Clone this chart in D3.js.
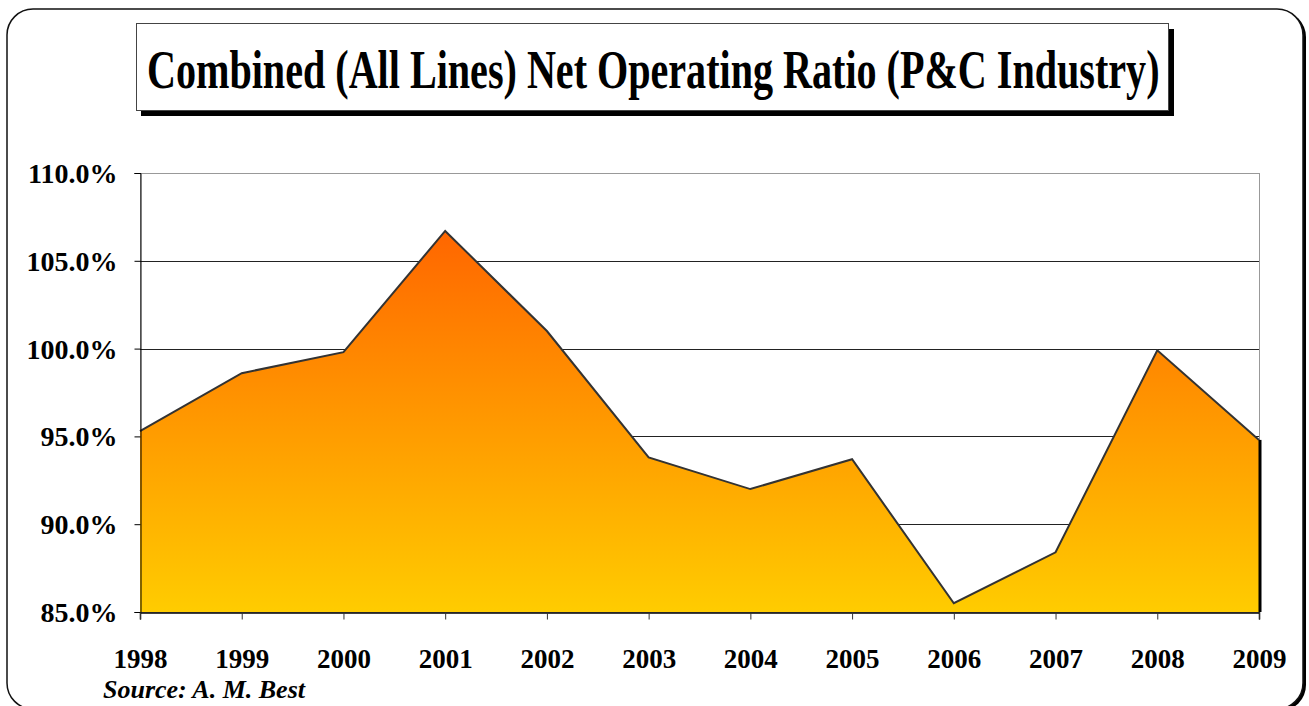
<!DOCTYPE html>
<html>
<head>
<meta charset="utf-8">
<script src="https://cdn.jsdelivr.net/npm/d3@7"></script>
<style>
  html, body { margin: 0; padding: 0; background: #fff; }
  svg { display: block; }
</style>
</head>
<body>
<svg id="chart" width="1309" height="706"></svg>
<script>
// Combined (All Lines) net operating ratio by year
const years = ["1998", "1999", "2000", "2001", "2002", "2003", "2004", "2005", "2006", "2007", "2008", "2009"];
const ratios = [95.3, 98.6, 99.8, 106.7, 101.0, 93.8, 92.0, 93.7, 85.5, 88.4, 99.9, 94.8];
const yTicks = [85, 90, 95, 100, 105, 110];

const titleText = "Combined (All Lines) Net Operating Ratio (P&C Industry)";
const sourceText = "Source: A. M. Best";

const SERIF = "'Liberation Serif', 'Times New Roman', serif";

const svg = d3.select("#chart");

// Plot frame
const plot = { left: 140, right: 1259, top: 173, bottom: 612 };

const x = d3.scalePoint().domain(years).range([plot.left, plot.right]);
const y = d3.scaleLinear().domain([85, 110]).range([plot.bottom, plot.top]);

// Outer rounded panel with a dark drop edge on the right and bottom
svg.append("rect")
  .attr("x", 10).attr("y", 11).attr("width", 1296).attr("height", 700)
  .attr("rx", 26).attr("ry", 26)
  .attr("fill", "#000");
svg.append("rect")
  .attr("x", 7).attr("y", 9).attr("width", 1296).attr("height", 700)
  .attr("rx", 26).attr("ry", 26)
  .attr("fill", "#fff").attr("stroke", "#111").attr("stroke-width", 1.5);

// Title box with shadow
svg.append("rect")
  .attr("x", 141).attr("y", 29).attr("width", 1033).attr("height", 87)
  .attr("fill", "#000");
svg.append("rect")
  .attr("x", 136.5).attr("y", 23.5).attr("width", 1032).attr("height", 87)
  .attr("fill", "#fff").attr("stroke", "#444").attr("stroke-width", 1);

// Title: condensed horizontally to fit the box
const title = svg.append("text")
  .attr("font-family", SERIF)
  .attr("font-weight", "bold")
  .attr("font-size", 54)
  .attr("fill", "#000")
  .text(titleText);
const natural = title.node().getComputedTextLength();
const sx = 1013 / natural;
title.attr("transform", `translate(147,88) scale(${sx},1)`);

// Gradient fill for the area
const defs = svg.append("defs");
const grad = defs.append("linearGradient")
  .attr("id", "areaFill")
  .attr("x1", 0).attr("y1", 0).attr("x2", 0).attr("y2", 1);
grad.append("stop").attr("offset", "0%").attr("stop-color", "#FF6600");
grad.append("stop").attr("offset", "100%").attr("stop-color", "#FFCC00");

// Plot border (top and right in grey)
svg.append("rect")
  .attr("x", plot.left + 0.5).attr("y", plot.top + 0.5)
  .attr("width", plot.right - plot.left).attr("height", plot.bottom - plot.top)
  .attr("fill", "#fff").attr("stroke", "#999").attr("stroke-width", 1);

// Horizontal gridlines
svg.append("g")
  .selectAll("line")
  .data(yTicks.filter(t => t > 85 && t < 110))
  .join("line")
  .attr("x1", plot.left).attr("x2", plot.right)
  .attr("y1", d => Math.round(y(d)) + 0.5).attr("y2", d => Math.round(y(d)) + 0.5)
  .attr("stroke", "#222").attr("stroke-width", 1);

// Area + outline
const pts = years.map((yr, i) => ({ yr, v: ratios[i] }));
const area = d3.area()
  .x(d => x(d.yr))
  .y0(y(85))
  .y1(d => y(d.v));
const line = d3.line()
  .x(d => x(d.yr))
  .y(d => y(d.v));

svg.append("path")
  .datum(pts)
  .attr("d", area)
  .attr("fill", "url(#areaFill)");

// Dark edge on the right side of the area
const last = pts[pts.length - 1];
svg.append("line")
  .attr("x1", x(last.yr) + 1).attr("x2", x(last.yr) + 1)
  .attr("y1", y(last.v)).attr("y2", y(85))
  .attr("stroke", "#000").attr("stroke-width", 3);

svg.append("path")
  .datum(pts)
  .attr("d", line)
  .attr("fill", "none")
  .attr("stroke", "#333")
  .attr("stroke-width", 2)
  .attr("stroke-linejoin", "miter");

// Y axis
const yAxis = d3.axisLeft(y)
  .tickValues(yTicks)
  .tickSize(6)
  .tickPadding(17)
  .tickFormat(d => d.toFixed(1) + "%");
const gy = svg.append("g")
  .attr("transform", `translate(${plot.left + 0.5},0)`)
  .call(yAxis)
  .attr("font-family", SERIF)
  .attr("font-weight", "bold")
  .attr("font-size", 28);
gy.select(".domain").attr("stroke", "#000");
gy.selectAll(".tick line").attr("stroke", "#000");
gy.selectAll(".tick text")
  .attr("fill", "#000")
  .attr("dy", "0.34em");

// X axis
const xAxis = d3.axisBottom(x)
  .tickSize(7)
  .tickPadding(29);
const gx = svg.append("g")
  .attr("transform", `translate(0,${plot.bottom + 0.5})`)
  .call(xAxis)
  .attr("font-family", SERIF)
  .attr("font-weight", "bold")
  .attr("font-size", 27);
gx.select(".domain").attr("stroke", "#000").attr("stroke-width", 1.5);
gx.selectAll(".tick line").attr("stroke", "#333");
gx.selectAll(".tick text")
  .attr("fill", "#000");

// Source note
svg.append("text")
  .attr("font-family", SERIF)
  .attr("font-weight", "bold")
  .attr("font-style", "italic")
  .attr("x", 103).attr("y", 698)
  .attr("font-size", 26)
  .attr("fill", "#000")
  .text(sourceText);
</script>
</body>
</html>
